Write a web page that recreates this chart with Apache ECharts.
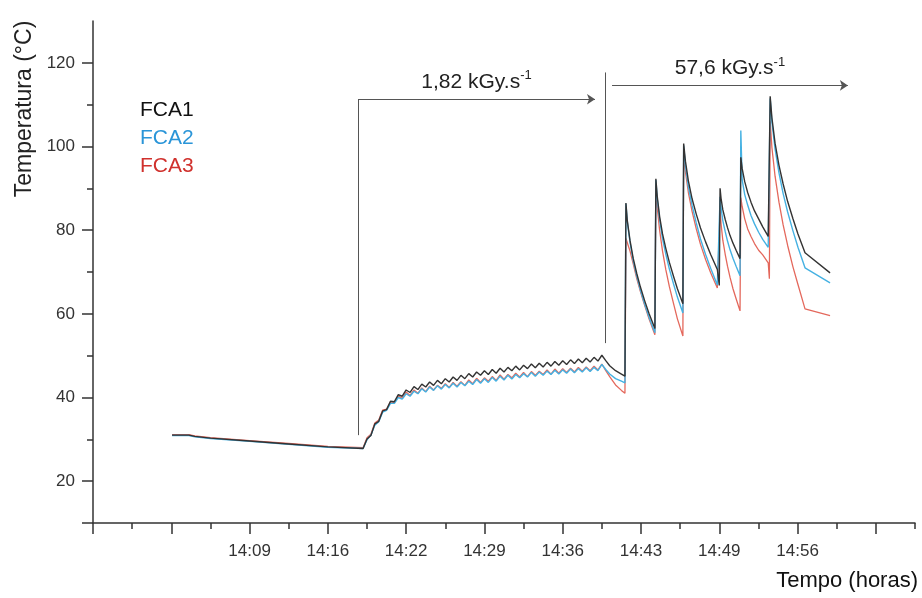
<!DOCTYPE html>
<html>
<head>
<meta charset="utf-8">
<script src="https://cdn.jsdelivr.net/npm/echarts@6/dist/echarts.min.js"></script>
<style>
  html, body { margin: 0; padding: 0; background: #fff; }
  #chart { width: 922px; height: 598px; }
</style>
</head>
<body>
<div id="chart"></div>
<script>
// tempo em segundos desde a origem do eixo (cada divisão principal = 400 s)
const tSec = [
  404, 490, 520, 600, 800, 1000, 1200,
  1380, 1400, 1420, 1440, 1460, 1480, 1500, 1520, 1540, 1560, 1580, 1600, 1620, 1640, 1660, 1680, 1700, 1720,
  1740, 1760, 1780, 1800, 1820, 1840, 1860, 1880, 1900, 1920, 1940, 1960, 1980, 2000, 2020, 2040, 2060, 2080,
  2100, 2120, 2140, 2160, 2180, 2200, 2220, 2240, 2260, 2280, 2300, 2320, 2340, 2360, 2380, 2400, 2420, 2440,
  2460, 2480, 2500, 2520, 2540, 2560, 2580, 2600,
  2620, 2640, 2670, 2700, 2718,
  2723, 2730, 2744, 2760, 2778, 2797, 2819, 2841, 2871,
  2876, 2883, 2895, 2910, 2927, 2945, 2966, 2986, 3014,
  3018, 3027, 3042, 3061, 3082, 3104, 3130, 3156, 3190, 3200,
  3204, 3209, 3218, 3230, 3242, 3255, 3270, 3286, 3306,
  3310, 3317, 3330, 3345, 3362, 3380, 3401, 3422, 3450, 3456,
  3460, 3469, 3485, 3505, 3526, 3549, 3576, 3602, 3638, 3766
];
// FCA1 (preto)
const fca1 = [
  31.0, 31.0, 30.7, 30.3, 29.6, 28.9, 28.2,
  27.8, 30.1, 30.9, 33.7, 34.3, 36.8, 37.1, 39.1, 39.0, 40.7, 40.3, 41.8, 41.2, 42.6, 41.9, 43.2, 42.5, 43.7,
  42.9, 44.1, 43.3, 44.5, 43.7, 44.9, 44.1, 45.3, 44.5, 45.7, 44.9, 46.1, 45.3, 46.4, 45.5, 46.7, 45.8, 47.0,
  46.1, 47.2, 46.4, 47.5, 46.6, 47.7, 46.9, 48.0, 47.1, 48.2, 47.3, 48.4, 47.5, 48.6, 47.7, 48.8, 47.9, 49.0,
  48.1, 49.2, 48.3, 49.4, 48.5, 49.6, 48.7, 50.1,
  48.8, 47.6, 46.4, 45.6, 45.1,
  86.5, 82.3, 77.5, 73.3, 69.7, 66.4, 63.1, 60.1, 56.5,
  92.3, 88.1, 83.3, 79.1, 75.6, 72.3, 69.0, 66.0, 62.4,
  100.7, 96.5, 91.8, 87.5, 83.9, 80.5, 77.2, 74.2, 70.6, 66.8,
  90.0, 87.6, 84.9, 82.6, 80.6, 78.7, 76.9, 75.2, 73.2,
  97.4, 94.7, 91.6, 89.0, 86.7, 84.6, 82.7, 80.8, 78.5, 78.2,
  112.0, 106.8, 100.8, 95.5, 91.1, 86.9, 82.8, 79.1, 74.6, 69.8
];
// FCA2 (azul)
const fca2 = [
  30.9, 30.9, 30.6, 30.2, 29.5, 28.8, 28.1,
  27.8, 29.9, 31.0, 33.4, 34.2, 36.5, 36.9, 38.6, 38.6, 40.0, 39.6, 40.9, 40.3, 41.5, 40.9, 42.1, 41.3, 42.5,
  41.7, 42.8, 42.0, 43.1, 42.3, 43.4, 42.5, 43.6, 42.8, 43.9, 43.1, 44.3, 43.4, 44.5, 43.6, 44.8, 43.9, 45.1,
  44.2, 45.3, 44.4, 45.5, 44.7, 45.7, 44.9, 46.0, 45.1, 46.1, 45.3, 46.3, 45.5, 46.5, 45.6, 46.6, 45.8, 46.8,
  45.9, 46.9, 46.1, 47.1, 46.2, 47.2, 46.4, 47.9,
  46.7, 45.6, 44.5, 43.9, 43.5,
  86.3, 82.0, 77.1, 72.7, 69.1, 65.7, 62.3, 59.2, 55.5,
  92.0, 87.5, 82.5, 78.0, 74.2, 70.7, 67.2, 64.0, 60.2,
  100.2, 95.5, 90.3, 85.9, 81.8, 77.9, 74.2, 70.9, 66.9, 66.7,
  88.0, 85.4, 82.3, 79.7, 77.4, 75.3, 73.3, 71.4, 69.1,
  103.8, 92.0, 88.5, 86.0, 83.5, 81.5, 79.5, 77.8, 75.9, 75.6,
  111.5, 105.8, 99.4, 93.7, 88.8, 84.4, 79.9, 75.9, 71.0, 67.4
];
// FCA3 (vermelho)
const fca3 = [
  31.1, 31.1, 30.8, 30.4, 29.7, 29.0, 28.3,
  28.0, 30.4, 31.2, 33.9, 34.6, 37.0, 37.2, 39.0, 38.8, 40.4, 39.8, 41.3, 40.5, 41.8, 41.0, 42.3, 41.4, 42.7,
  41.8, 42.9, 42.2, 43.3, 42.4, 43.6, 42.7, 43.8, 42.9, 44.2, 43.3, 44.6, 43.6, 44.7, 43.9, 45.0, 44.1, 45.4,
  44.4, 45.5, 44.7, 45.8, 44.9, 46.0, 45.0, 46.2, 45.3, 46.3, 45.5, 46.6, 45.6, 46.8, 45.8, 46.9, 46.0, 47.0,
  46.1, 47.2, 46.3, 47.3, 46.4, 47.5, 46.6, 48.0,
  46.4, 45.0, 43.0, 41.7, 41.0,
  78.0, 77.0, 75.0, 72.0, 68.5, 65.3, 62.0, 58.8, 55.0,
  91.0, 85.5, 80.0, 75.0, 70.5, 66.5, 62.5, 58.8, 54.7,
  99.0, 94.0, 89.0, 84.5, 80.4, 76.6, 73.0, 69.8, 66.2, 66.0,
  85.0, 81.6, 77.6, 74.3, 71.4, 68.7, 66.0, 63.6, 60.7,
  87.8, 85.6, 82.7, 80.3, 78.5, 76.8, 75.2, 74.1, 72.2, 68.4,
  106.0, 99.7, 92.9, 86.7, 81.3, 76.4, 71.3, 67.0, 61.2, 59.6
];
// rótulos do eixo x, um por divisão principal
const xTickLabels = ['', '', '14:09', '14:16', '14:22', '14:29', '14:36', '14:43', '14:49', '14:56', ''];
// marcas dos eixos
const xMajorTicks = [0, 400, 800, 1200, 1600, 2000, 2400, 2800, 3200, 3600, 4000];
const xMinorTicks = [200, 600, 1000, 1400, 1800, 2200, 2600, 3000, 3400, 3800, 4200];
const yMajorTicks = [10, 20, 40, 60, 80, 100, 120];
const yMinorTicks = [30, 50, 70, 90, 110];
const yTickLabels = [20, 40, 60, 80, 100, 120];

const chart = echarts.init(document.getElementById('chart'));
const font = "'Liberation Sans', Arial, sans-serif";
const axisColor = '#333';

const toPairs = (vals) => tSec.map((t, i) => [t, vals[i]]);

const doseLabel = (text) => ({
  show: true,
  position: 'insideMiddleTop',
  distance: 4,
  formatter: '{t|' + text + '}{s|-1}',
  rich: {
    t: { fontSize: 21, color: '#222', fontFamily: font, lineHeight: 26 },
    s: { fontSize: 13, color: '#222', fontFamily: font, verticalAlign: 'top', lineHeight: 16 }
  }
});

const tickStyle = { color: axisColor, width: 1.5 };

const option = {
  animation: false,
  backgroundColor: '#fff',
  textStyle: { fontFamily: font },
  grid: { left: 93, right: 7, top: 21, bottom: 75, containLabel: false, outerBoundsMode: 'none' },
  legend: {
    orient: 'vertical',
    left: 130,
    top: 95,
    icon: 'none',
    itemWidth: 0,
    itemHeight: 14,
    itemGap: 7,
    selectedMode: false,
    textStyle: { fontSize: 21, lineHeight: 21, fontFamily: font },
    data: [
      { name: 'FCA1', textStyle: { color: '#111' } },
      { name: 'FCA2', textStyle: { color: '#2a95d8' } },
      { name: 'FCA3', textStyle: { color: '#d0312d' } }
    ]
  },
  xAxis: [
    {
      type: 'value',
      position: 'bottom',
      min: 0,
      max: 4200,
      interval: 400,
      axisLine: { lineStyle: { color: axisColor, width: 1.5 } },
      axisTick: { length: 11, customValues: xMajorTicks, lineStyle: tickStyle },
      splitLine: { show: false },
      axisLabel: {
        color: axisColor,
        fontSize: 17,
        margin: 20,
        customValues: xMajorTicks,
        formatter: (v) => xTickLabels[Math.round(v / 400)] || ''
      }
    },
    {
      type: 'value',
      position: 'bottom',
      min: 0,
      max: 4200,
      interval: 400,
      axisLine: { show: false },
      axisTick: { show: true, length: 6, customValues: xMinorTicks, lineStyle: tickStyle },
      axisLabel: { show: false },
      splitLine: { show: false }
    }
  ],
  yAxis: [
    {
      type: 'value',
      position: 'left',
      min: 10,
      max: 130,
      interval: 10,
      axisLine: { show: true, lineStyle: { color: axisColor, width: 1.5 } },
      axisTick: { show: true, length: 11, customValues: yMajorTicks, lineStyle: tickStyle },
      splitLine: { show: false },
      axisLabel: {
        color: axisColor,
        fontSize: 17,
        margin: 18,
        customValues: yTickLabels
      }
    },
    {
      type: 'value',
      position: 'left',
      min: 10,
      max: 130,
      interval: 10,
      axisLine: { show: false },
      axisTick: { show: true, length: 6, customValues: yMinorTicks, lineStyle: tickStyle },
      axisLabel: { show: false },
      splitLine: { show: false }
    }
  ],
  graphic: [
    {
      type: 'text',
      x: 25,
      y: 109,
      rotation: Math.PI / 2,
      style: {
        text: 'Temperatura (°C)',
        fontSize: 23,
        fontFamily: font,
        fill: '#222',
        align: 'center',
        verticalAlign: 'middle'
      }
    },
    {
      type: 'text',
      right: 4,
      top: 570,
      style: { text: 'Tempo (horas)', fontSize: 22, fontFamily: font, fill: '#111' }
    }
  ],
  series: [
    {
      name: 'FCA3',
      type: 'line',
      showSymbol: false,
      symbol: 'none',
      itemStyle: { color: '#e4685c' },
      lineStyle: { color: '#e4685c', width: 1.3 },
      data: toPairs(fca3)
    },
    {
      name: 'FCA2',
      type: 'line',
      showSymbol: false,
      symbol: 'none',
      itemStyle: { color: '#45b1e2' },
      lineStyle: { color: '#45b1e2', width: 1.4 },
      data: toPairs(fca2)
    },
    {
      name: 'FCA1',
      type: 'line',
      showSymbol: false,
      symbol: 'none',
      itemStyle: { color: '#333' },
      lineStyle: { color: '#333', width: 1.4 },
      data: toPairs(fca1),
      markLine: {
        silent: true,
        symbol: ['none', 'none'],
        symbolSize: 8,
        lineStyle: { color: '#555', width: 1, type: 'solid' },
        label: { show: false },
        data: [
          [{ coord: [1354, 31] }, { coord: [1354, 111.3] }],
          [{ coord: [1354, 111.3] }, { coord: [2565, 111.3], symbol: 'arrow', label: doseLabel('1,82 kGy.s') }],
          [{ coord: [2616, 53] }, { coord: [2616, 117.7] }],
          [{ coord: [2652, 114.6] }, { coord: [3857, 114.6], symbol: 'arrow', label: doseLabel('57,6 kGy.s') }]
        ]
      }
    }
  ]
};

chart.setOption(option);
window.addEventListener('resize', () => chart.resize());
</script>
</body>
</html>
